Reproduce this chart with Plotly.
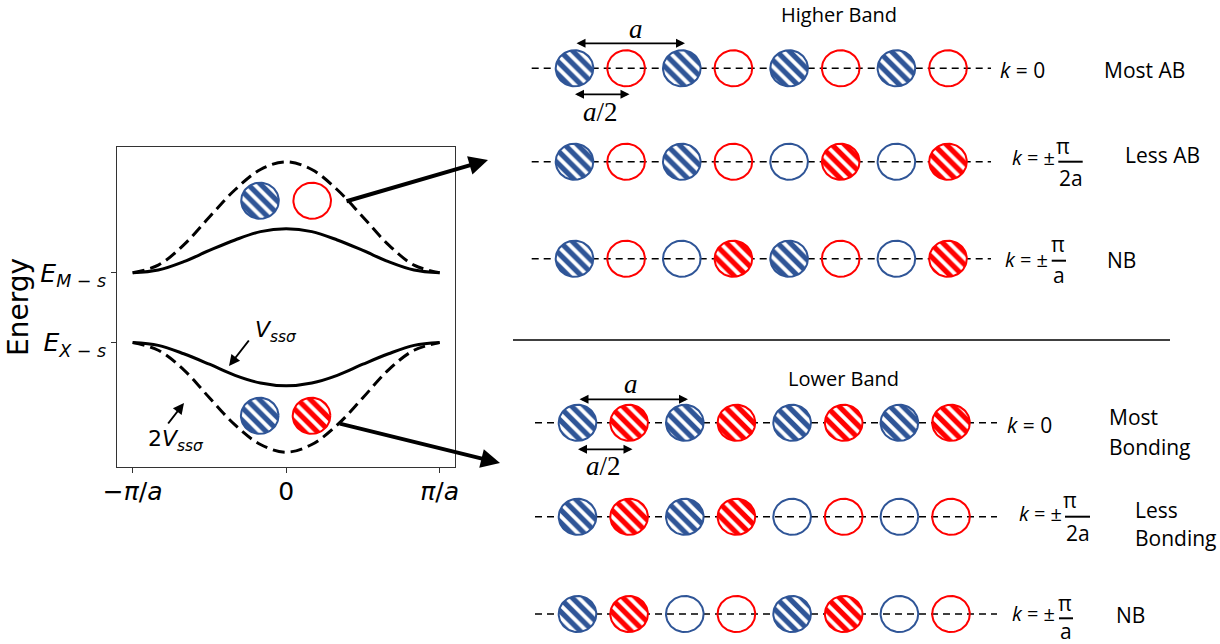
import numpy as np
import plotly.graph_objects as go

# ---------------- band dispersion (k in units of pi/a, E relative to E_X-s) ----------------
k_pts = [-1.0, -0.833, -0.667, -0.5, -0.333, -0.167, 0.0, 0.167, 0.333, 0.5, 0.667, 0.833, 1.0]
upper_solid = [1.00, 1.04, 1.16, 1.32, 1.47, 1.59, 1.63, 1.59, 1.47, 1.32, 1.16, 1.04, 1.00]
upper_dashed = [1.00, 1.11, 1.40, 1.80, 2.19, 2.48, 2.59, 2.48, 2.19, 1.80, 1.40, 1.11, 1.00]
lower_solid = [0.00, -0.04, -0.16, -0.31, -0.47, -0.58, -0.62, -0.58, -0.47, -0.31, -0.16, -0.04, 0.00]
lower_dashed = [0.00, -0.11, -0.39, -0.79, -1.18, -1.46, -1.57, -1.46, -1.18, -0.79, -0.39, -0.11, 0.00]

x_tick_vals = [-1, 0, 1]
x_tick_text = ["\u2212<i>\u03c0</i>/<i>a</i>", "0", "<i>\u03c0</i>/<i>a</i>"]
y_tick_vals = [0, 1]
y_tick_text = ["<i>E</i><sub><i>X</i> \u2212 <i>s</i></sub>", "<i>E</i><sub><i>M</i> \u2212 <i>s</i></sub>"]

# ---------------- orbital phases along the chain (1 = hatched lobe, 0 = open) ----------------
higher_blue = [[1, 1, 1, 1], [1, 1, 0, 0], [1, 0, 1, 0]]
higher_red = [[0, 0, 0, 0], [0, 0, 1, 1], [0, 1, 0, 1]]
lower_blue = [[1, 1, 1, 1], [1, 1, 0, 0], [1, 0, 1, 0]]
lower_red = [[1, 1, 1, 1], [1, 1, 0, 0], [1, 0, 1, 0]]
higher_labels = ["Most AB", "Less AB", "NB"]
lower_labels = [["Most", "Bonding"], ["Less", "Bonding"], ["NB"]]

BLUE = "#2F5597"
RED = "#FF0000"
SANS = "Open Sans"
MATH = "DejaVu Sans"
SERIF = "Liberation Serif"

W, H = 1220, 644
fig = go.Figure()

# ---------------- left panel: band curves ----------------
for ys, dashed in [(upper_dashed, True), (upper_solid, False), (lower_solid, False), (lower_dashed, True)]:
    ln = dict(color="black", width=3, shape="spline")
    if dashed:
        ln["dash"] = "12px,6px"
    fig.add_trace(go.Scatter(x=k_pts, y=ys, mode="lines", line=ln, hoverinfo="skip", showlegend=False))

# ---------------- orbital lobes, drawn on a pixel-scaled overlay axis ----------------
theta = np.linspace(0, 2 * np.pi, 73)


def lobe(cx, cy, color, hatched, rx=18.8, ry=18.0):
    kw = dict(x=cx + rx * np.cos(theta), y=cy + ry * np.sin(theta), xaxis="x2", yaxis="y2",
              mode="lines", fill="toself", line=dict(color=color, width=2),
              hoverinfo="skip", showlegend=False)
    if hatched:
        kw["fillpattern"] = dict(shape="\\", fgcolor=color, fgopacity=1, bgcolor="white",
                                 size=9, solidity=0.58)
        kw["fillcolor"] = "white"
    else:
        kw["fillcolor"] = "rgba(0,0,0,0)"
    fig.add_trace(go.Scatter(**kw))


shapes = []
annos = []


def text(x, y, s, size=21, family=SANS, xanchor="center", color="black"):
    annos.append(dict(x=x, y=y, xref="x2", yref="y2", text=s, showarrow=False, xanchor=xanchor,
                      yanchor="middle", font=dict(size=size, family=family, color=color)))


def arrow(x0, y0, x1, y1, width=2, size=1.0, both=False):
    d = dict(x=x1, y=y1, ax=x0, ay=y0, xref="x2", yref="y2", axref="x2", ayref="y2", text="",
             showarrow=True, arrowhead=2, arrowsize=size, arrowwidth=width, arrowcolor="black")
    if both:
        d.update(arrowside="end+start", startarrowhead=2, startarrowsize=size)
    annos.append(d)


def hline(x0, x1, y, width=1.5, dash=None):
    ln = dict(color="black", width=width)
    if dash:
        ln["dash"] = dash
    shapes.append(dict(type="line", xref="x2", yref="y2", x0=x0, x1=x1, y0=y, y1=y, line=ln, layer="below"))


# lattice geometry (pixels): cell length a, sublattice offset
A_PX, D_PX = 107.3, 51.6


def chain(x0, y, blue, red, line_x0, line_x1):
    hline(line_x0, line_x1, y, dash="7px,5px")
    for n in range(4):
        lobe(x0 + n * A_PX, y, BLUE, blue[n])
        lobe(x0 + n * A_PX + D_PX, y, RED, red[n])


higher_rows_y = [68.3, 161.7, 258.7]
lower_rows_y = [422.8, 516.8, 614.0]
for i in range(3):
    chain(574.5, higher_rows_y[i], higher_blue[i], higher_red[i], 531.7, 991)
    chain(577.5, lower_rows_y[i], lower_blue[i], lower_red[i], 535, 997)

# lobes inside the band panel
lobe(260.0, 200.7, BLUE, 1)
lobe(312.2, 200.7, RED, 0)
lobe(259.7, 415.8, BLUE, 1)
lobe(311.5, 415.8, RED, 1)

# ---------------- headings, spacing markers ----------------
text(839, 14, "Higher Band", size=20)
text(843, 378, "Lower Band", size=20)
shapes.append(dict(type="line", xref="x2", yref="y2", x0=513, x1=1170, y0=340, y1=340,
                   line=dict(color="black", width=1.5)))

for ya, yarr, yhalf, yhalf_txt, xa, xs in [(29, 43.3, 94.3, 112, 636, 575), (384, 399.3, 449.3, 466, 631, 578)]:
    text(xa, ya, "<i>a</i>", size=27, family=SERIF)
    arrow(xs, yarr, xs + 110, yarr, width=1.8, both=True)
    arrow(xs - 1.5, yhalf, xs + 54.5, yhalf, width=1.8, both=True)
    text(xs + 25, yhalf_txt, "<i>a</i>/2", size=27, family=SERIF)

# ---------------- wave-vector labels ----------------
K_EQ = "<i>k</i> = \u00b1"
text(998, 70, "<i>k</i> = 0", xanchor="left")
text(1005, 425, "<i>k</i> = 0", xanchor="left")


def k_frac(xk, yk, xpi, ypi, bx0, bx1, by, den, xden, yden):
    text(xk, yk, K_EQ, size=20, xanchor="left")
    text(xpi, ypi, "\u03c0", size=21)
    shapes.append(dict(type="line", xref="x2", yref="y2", x0=bx0, x1=bx1, y0=by, y1=by,
                       line=dict(color="black", width=2)))
    text(xden, yden, den, size=21)


k_frac(1010, 157, 1062.5, 146, 1058.3, 1082.7, 161.7, "2a", 1071, 178)
k_frac(1002.7, 259, 1058.3, 244, 1051.7, 1066, 260.7, "a", 1058.8, 275)
k_frac(1016.7, 513, 1070, 500, 1065, 1090, 516.7, "2a", 1077.5, 533)
k_frac(1010, 613, 1065, 602.5, 1059, 1073, 618.3, "a", 1066, 630.5)

# ---------------- character labels ----------------
text(1144, 70, higher_labels[0])
text(1162.5, 155, higher_labels[1])
text(1121.7, 260, higher_labels[2])
text(1106.7, 416.7, lower_labels[0][0], xanchor="left")
text(1106.7, 446.7, lower_labels[0][1], xanchor="left")
text(1133, 510, lower_labels[1][0], xanchor="left")
text(1133, 538.3, lower_labels[1][1], xanchor="left")
text(1130, 615, lower_labels[2][0])

# ---------------- band panel annotations ----------------
text(253, 331, "<i>V</i><sub><i>ss\u03c3</i></sub>", size=22, family=MATH, xanchor="left")
text(146, 440, "2<i>V</i><sub><i>ss\u03c3</i></sub>", size=22, family=MATH, xanchor="left")
arrow(250, 339, 229, 366, width=2, size=1.1)
arrow(167, 425, 184, 403, width=2, size=1.1)
arrow(345, 201.7, 488, 160, width=4, size=0.95)
arrow(338.3, 423.3, 500, 463, width=4, size=0.95)

# ---------------- layout ----------------
box_l, box_r, box_t, box_b = 117.3, 455.0, 147.3, 466.7
axis_common = dict(showgrid=False, zeroline=False, showline=True, mirror=True, linecolor="#333333",
                   linewidth=1.2, ticks="outside", ticklen=5, tickcolor="#333333", automargin=False,
                   tickfont=dict(family=MATH, size=25, color="black"))
fig.update_layout(
    width=W, height=H, margin=dict(l=0, r=0, t=0, b=0, pad=0),
    paper_bgcolor="white", plot_bgcolor="rgba(0,0,0,0)",
    xaxis=dict(domain=[box_l / W, box_r / W], range=[-1.1, 1.1], tickvals=x_tick_vals,
               ticktext=x_tick_text, ticklabelstandoff=-3, **axis_common),
    yaxis=dict(domain=[1 - box_b / H, 1 - box_t / H], range=[-1.778, 2.798], tickvals=y_tick_vals,
               ticktext=y_tick_text, title=dict(text="Energy", font=dict(family=MATH, size=28, color="black"), standoff=3),
               **axis_common),
    xaxis2=dict(domain=[0, 1], range=[0, W], visible=False, anchor="y2", automargin=False),
    yaxis2=dict(domain=[0, 1], range=[H, 0], visible=False, anchor="x2", automargin=False),
    shapes=shapes,
    annotations=annos,
)

fig.write_html("out.html")
